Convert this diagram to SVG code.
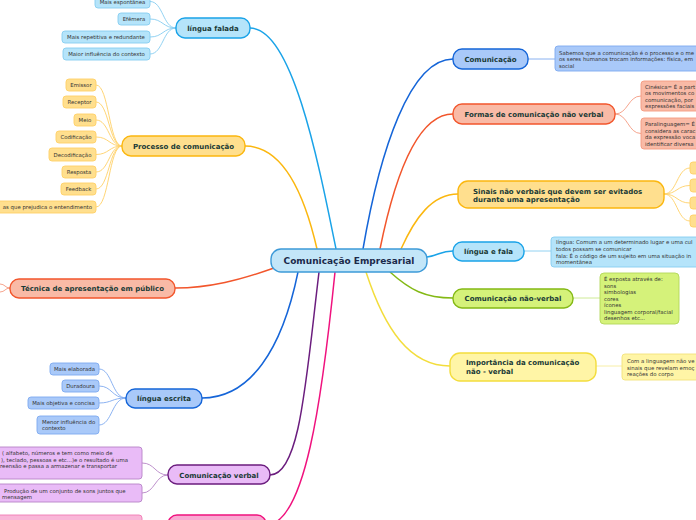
<svg xmlns="http://www.w3.org/2000/svg" width="696" height="520" viewBox="0 0 696 520">
<style>
text{font-family:"DejaVu Sans","Verdana",sans-serif}
.t0{font-size:9px;font-weight:bold;fill:#1b2a4a;text-anchor:middle}
.tb{font-size:7px;font-weight:bold;fill:#1a3a36;text-anchor:middle}
.tbl{font-size:7px;font-weight:bold;fill:#1a3a36}
.tc{font-size:5.4px;fill:#333;text-anchor:middle}
.td{font-size:5.4px;fill:#333}
.tde{font-size:5.4px;fill:#333;text-anchor:end}
.main{fill:none;stroke-width:1.5}
.sub{fill:none;stroke-width:0.9}
.bBlue{fill:#a9c9f9;stroke:#1565d8;stroke-width:1.4}
.cBlue{fill:#a9c9f9;stroke:#7ea9ef;stroke-width:0.9}
.bSky{fill:#b5e4fa;stroke:#1aa3e8;stroke-width:1.4}
.cSky{fill:#b5e4fa;stroke:#86cdf0;stroke-width:0.9}
.bGold{fill:#ffdf8e;stroke:#fbb70f;stroke-width:1.4}
.cGold{fill:#ffdf8e;stroke:#ffd066;stroke-width:0.9}
.bRed{fill:#f9baa6;stroke:#f2562c;stroke-width:1.4}
.cRed{fill:#f9baa6;stroke:#f49a80;stroke-width:0.9}
.bPur{fill:#e9bbf7;stroke:#6b1d7e;stroke-width:1.4}
.cPur{fill:#e9bbf7;stroke:#b784c6;stroke-width:0.9}
.bPink{fill:#f9a9d2;stroke:#f0127e;stroke-width:1.4}
.cPink{fill:#f9b6d8;stroke:#f07ab4;stroke-width:0.9}
.bLime{fill:#d5f27a;stroke:#84b915;stroke-width:1.4}
.cLime{fill:#d5f27a;stroke:#b2d75a;stroke-width:0.9}
.bYel{fill:#fff5a6;stroke:#f3dd3c;stroke-width:1.4}
.cYel{fill:#fff5a6;stroke:#f3e27a;stroke-width:0.9}
</style>
<rect width="696" height="520" fill="#ffffff"/>
<g id="connectors">
<path class="main" stroke="#1aa3e8" d="M336,249 C318,160 292,28 250,28"/>
<path class="main" stroke="#fbb70f" d="M317,249 C300,175 275,146 245,146"/>
<path class="main" stroke="#f2562c" d="M274,268 C240,280 210,288 175,288"/>
<path class="main" stroke="#1565d8" d="M298,272 C282,350 250,398 202,398"/>
<path class="main" stroke="#6b1d7e" d="M319,272 C306,380 300,475 270,475"/>
<path class="main" stroke="#f0127e" d="M335,272 C322,400 305,525 266,525"/>
<path class="main" stroke="#1565d8" d="M363,249 C380,150 410,59 453,59"/>
<path class="main" stroke="#f2562c" d="M380,249 C395,175 418,114 453,114"/>
<path class="main" stroke="#fbb70f" d="M401,249 C415,218 432,194 458,194"/>
<path class="main" stroke="#1aa3e8" d="M427,257 C440,255 440,251 453,251"/>
<path class="main" stroke="#84b915" d="M390,272 C410,290 425,298 453,298"/>
<path class="main" stroke="#f3dd3c" d="M366,272 C385,330 410,366 450,366"/>
<g stroke="#86cdf0" class="sub">
<path d="M176,28 C163,28 163,1.5 150,1.5"/>
<path d="M176,28 C163,28 163,19 150,19"/>
<path d="M176,28 C163,28 163,37 150,37"/>
<path d="M176,28 C163,28 163,54 150,54"/>
<path d="M524,251 L551,251"/>
</g>
<g stroke="#ffd066" class="sub">
<path d="M122,146 C109,146 109,85 96,85"/>
<path d="M122,146 C109,146 109,102 96,102"/>
<path d="M122,146 C109,146 109,120 96,120"/>
<path d="M122,146 C109,146 109,137 96,137"/>
<path d="M122,146 C109,146 109,154.5 96,154.5"/>
<path d="M122,146 C109,146 109,172 96,172"/>
<path d="M122,146 C109,146 109,189 96,189"/>
<path d="M122,146 C109,146 109,207 96,207"/>
<path d="M664,194 C677,194 677,168 690,168"/>
<path d="M664,194 C677,194 677,185.5 690,185.5"/>
<path d="M664,194 C677,194 677,203 690,203"/>
<path d="M664,194 C677,194 677,221 690,221"/>
</g>
<g stroke="#f49a80" class="sub">
<path d="M10,288 C5,288 5,284 0,284"/>
<path d="M10,288 C5,288 5,292 0,292"/>
<path d="M615,114 C628,114 628,96 641,96"/>
<path d="M615,114 C628,114 628,133.5 641,133.5"/>
</g>
<g stroke="#7ea9ef" class="sub">
<path d="M126,398 C112,398 112,369 99,369"/>
<path d="M126,398 C112,398 112,386 99,386"/>
<path d="M126,398 C112,398 112,403 99,403"/>
<path d="M126,398 C112,398 112,425 99,425"/>
<path d="M528,59 L555,59"/>
</g>
<g stroke="#b784c6" class="sub">
<path d="M168,475 C155,475 155,463 142,463"/>
<path d="M168,475 C155,475 155,493 142,493"/>
</g>
<path class="sub" stroke="#c8e88a" stroke-width="1.5" d="M573,298 L600,298"/>
<path class="sub" stroke="#f6ec9c" stroke-width="1.5" d="M596,366 L622,366"/>
</g>

<g id="central">
<rect x="271" y="249" width="156" height="23" rx="10" fill="#c3e6f8" stroke="#3d9ad8" stroke-width="1.4"/>
<text class="t0" x="349" y="264">Comunicação Empresarial</text>
</g>

<g id="lingua-falada">
<rect class="bSky" x="176" y="18" width="74" height="20" rx="9"/>
<text class="tb" x="213" y="30.5">língua falada</text>
</g>
<g id="lf-1"><rect class="cSky" x="95" y="-5" width="55" height="13" rx="3"/><text class="tc" x="122.5" y="3.5">Mais espontânea</text></g>
<g id="lf-2"><rect class="cSky" x="118" y="13" width="32" height="12" rx="3"/><text class="tc" x="134" y="21">Efêmera</text></g>
<g id="lf-3"><rect class="cSky" x="62" y="31" width="88" height="12" rx="3"/><text class="tc" x="106" y="39">Mais repetitiva e redundante</text></g>
<g id="lf-4"><rect class="cSky" x="63" y="48" width="87" height="12" rx="3"/><text class="tc" x="106.5" y="56">Maior influência do contexto</text></g>

<g id="processo">
<rect class="bGold" x="122" y="136" width="123" height="20" rx="9"/>
<text class="tb" x="183.5" y="148.5">Processo de comunicação</text>
</g>
<g id="pc-1"><rect class="cGold" x="66" y="79" width="30" height="12" rx="3"/><text class="tc" x="81" y="87">Emissor</text></g>
<g id="pc-2"><rect class="cGold" x="63" y="96" width="33" height="12" rx="3"/><text class="tc" x="79.5" y="104">Receptor</text></g>
<g id="pc-3"><rect class="cGold" x="74" y="114" width="22" height="12" rx="3"/><text class="tc" x="85" y="122">Meio</text></g>
<g id="pc-4"><rect class="cGold" x="56" y="131" width="40" height="12" rx="3"/><text class="tc" x="76" y="139">Codificação</text></g>
<g id="pc-5"><rect class="cGold" x="49" y="148" width="47" height="13" rx="3"/><text class="tc" x="72.5" y="156.5">Decodificação</text></g>
<g id="pc-6"><rect class="cGold" x="62" y="166" width="34" height="12" rx="3"/><text class="tc" x="79" y="174">Resposta</text></g>
<g id="pc-7"><rect class="cGold" x="61" y="183" width="35" height="12" rx="3"/><text class="tc" x="78.5" y="191">Feedback</text></g>
<g id="pc-8"><rect class="cGold" x="-5" y="201" width="101" height="12" rx="3"/><text class="tde" x="92" y="209">as que prejudica o entendimento</text></g>

<g id="tecnica">
<rect class="bRed" x="10" y="279" width="165" height="19" rx="9"/>
<text class="tb" x="92.5" y="291">Técnica de apresentação em público</text>
</g>

<g id="lingua-escrita">
<rect class="bBlue" x="126" y="389" width="76" height="19" rx="9"/>
<text class="tb" x="164" y="401">língua escrita</text>
</g>
<g id="le-1"><rect class="cBlue" x="50" y="363" width="49" height="12" rx="3"/><text class="tc" x="74.5" y="371">Mais elaborada</text></g>
<g id="le-2"><rect class="cBlue" x="62" y="380" width="37" height="12" rx="3"/><text class="tc" x="80.5" y="388">Duradoura</text></g>
<g id="le-3"><rect class="cBlue" x="28" y="397" width="71" height="12" rx="3"/><text class="tc" x="63.5" y="405">Mais objetiva e concisa</text></g>
<g id="le-4"><rect class="cBlue" x="37" y="416" width="62" height="18" rx="3"/><text class="td" x="42" y="423.5">Menor influência do</text><text class="td" x="42" y="430">contexto</text></g>

<g id="com-verbal">
<rect class="bPur" x="168" y="465" width="102" height="19" rx="9"/>
<text class="tb" x="219" y="477.5">Comunicação verbal</text>
</g>
<g id="cv-1"><rect class="cPur" x="-5" y="447" width="147" height="32" rx="3"/>
<text class="td" x="2" y="455">( alfabeto, números e tem como meio de</text>
<text class="td" x="1" y="461.5">), teclado, pessoas e etc...)e o resultado é uma</text>
<text class="td" x="0" y="468">reensão e passa a armazenar e transportar</text></g>
<g id="cv-2"><rect class="cPur" x="-5" y="484" width="147" height="18" rx="3"/>
<text class="td" x="4" y="492.5">Produção de um conjunto de sons juntos que</text>
<text class="td" x="2" y="499">mensagem</text></g>

<g id="pink"><rect class="bPink" x="168" y="515" width="98" height="20" rx="9"/></g>
<g id="pink-1"><rect class="cPink" x="-5" y="515" width="147" height="20" rx="3"/></g>

<g id="comunicacao">
<rect class="bBlue" x="453" y="49" width="75" height="20" rx="9"/>
<text class="tb" x="490.5" y="61.5">Comunicação</text>
</g>
<g id="com-1"><rect class="cBlue" x="555" y="46" width="150" height="25" rx="3"/>
<text class="td" x="559" y="54.5">Sabemos que a comunicação é o processo e o me</text>
<text class="td" x="559" y="61">os seres humanos trocam informações: física, em</text>
<text class="td" x="559" y="67.5">social</text></g>

<g id="formas">
<rect class="bRed" x="453" y="104" width="162" height="20" rx="9"/>
<text class="tb" x="534" y="116.5">Formas de comunicação não verbal</text>
</g>
<g id="fo-1"><rect class="cRed" x="641" y="81" width="70" height="30" rx="3"/>
<text class="td" x="645" y="88.5">Cinésica= É a part</text>
<text class="td" x="645" y="95">os movimentos co</text>
<text class="td" x="645" y="101.5">comunicação, por</text>
<text class="td" x="645" y="108">expressões faciais</text></g>
<g id="fo-2"><rect class="cRed" x="641" y="118" width="70" height="31" rx="3"/>
<text class="td" x="645" y="126">Paralinguagem= É</text>
<text class="td" x="645" y="132.5">considera as carac</text>
<text class="td" x="645" y="139">da expressão voca</text>
<text class="td" x="645" y="145.5">identificar diversa</text></g>

<g id="sinais">
<rect class="bGold" x="458" y="181" width="206" height="27" rx="10"/>
<text class="tbl" x="473" y="193.5">Sinais não verbais que devem ser evitados</text>
<text class="tbl" x="473" y="201.5">durante uma apresentação</text>
</g>
<g id="si-1"><rect class="cGold" x="690" y="162" width="12" height="12" rx="3"/></g>
<g id="si-2"><rect class="cGold" x="690" y="179" width="12" height="13" rx="3"/></g>
<g id="si-3"><rect class="cGold" x="690" y="197" width="12" height="12" rx="3"/></g>
<g id="si-4"><rect class="cGold" x="690" y="215" width="12" height="12" rx="3"/></g>

<g id="lingua-fala">
<rect class="bSky" x="453" y="242" width="71" height="19" rx="9"/>
<text class="tb" x="488.5" y="254">língua e fala</text>
</g>
<g id="lfa-1"><rect class="cSky" x="551" y="237" width="150" height="30" rx="3"/>
<text class="td" x="556" y="243.7">língua: Comum a um determinado lugar e uma cul</text>
<text class="td" x="556" y="250.5">todos possam se comunicar</text>
<text class="td" x="556" y="257.5"> fala: É o código de um sujeito em uma situação in</text>
<text class="td" x="556" y="264.3">momentânea</text></g>

<g id="com-nao-verbal">
<rect class="bLime" x="453" y="289" width="120" height="19" rx="9"/>
<text class="tb" x="513" y="301">Comunicação não-verbal</text>
</g>
<g id="cnv-1"><rect class="cLime" x="600" y="273" width="79" height="51" rx="4"/>
<text class="td" x="604" y="281">É exposta através de:</text>
<text class="td" x="604" y="287.5">sons</text>
<text class="td" x="604" y="294">simbologias</text>
<text class="td" x="604" y="300.5">cores</text>
<text class="td" x="604" y="307">ícones</text>
<text class="td" x="604" y="313.5">linguagem corporal/facial</text>
<text class="td" x="604" y="320">desenhos etc...</text></g>

<g id="importancia">
<rect class="bYel" x="450" y="353" width="146" height="28" rx="10"/>
<text class="tbl" x="466" y="365">Importância da comunicação</text>
<text class="tbl" x="466" y="374">não - verbal</text>
</g>
<g id="imp-1"><rect class="cYel" x="622" y="354" width="80" height="26" rx="3"/>
<text class="td" x="627" y="363">Com a linguagem não ve</text>
<text class="td" x="627" y="369.5">sinais que revelam emoç</text>
<text class="td" x="627" y="376">reações do corpo</text></g>
</svg>
